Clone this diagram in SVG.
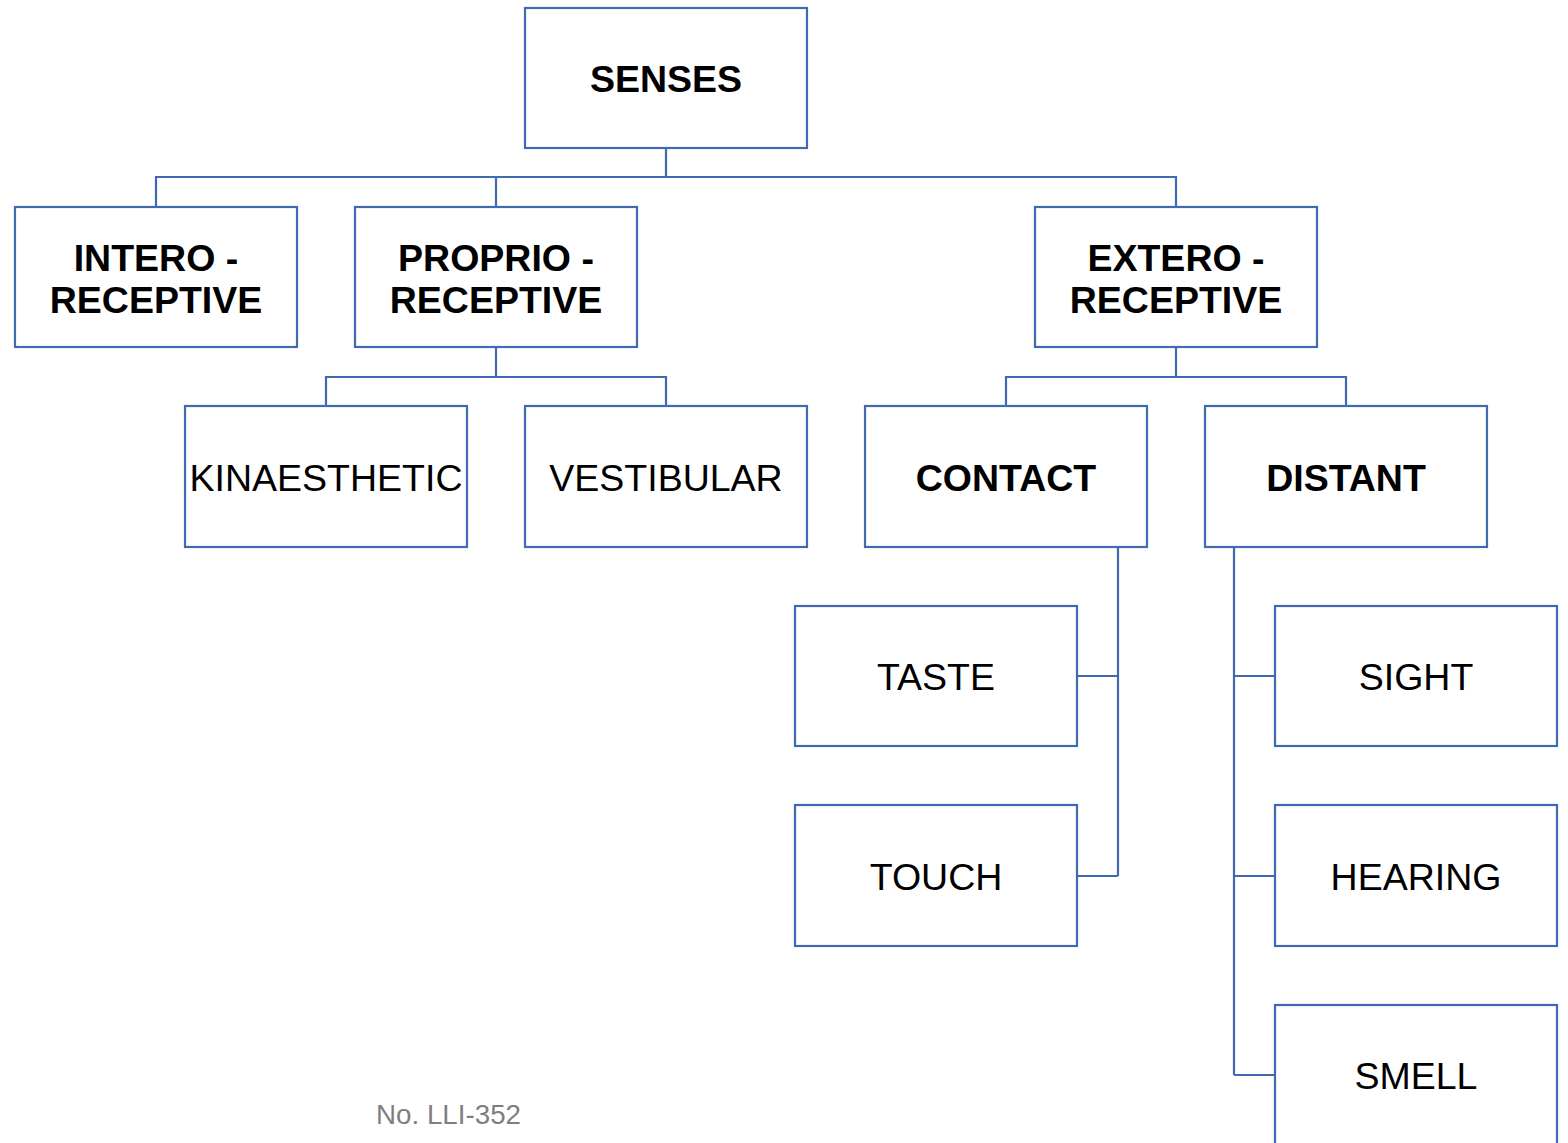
<svg xmlns="http://www.w3.org/2000/svg" width="1568" height="1143" viewBox="0 0 1568 1143">
<style>
.box{fill:#ffffff;stroke:#4169b1;stroke-width:2.2}
.con{fill:none;stroke:#4169b1;stroke-width:2.2}
.b{font-family:"Liberation Sans",Arial,sans-serif;font-weight:bold;font-size:37.5px;fill:#000;text-anchor:middle}
.r{font-family:"Liberation Sans",Arial,sans-serif;font-size:37.5px;fill:#000;text-anchor:middle}
.ft{font-family:"Liberation Sans",Arial,sans-serif;font-size:27px;fill:#7f7f7f}
</style>
<rect width="1568" height="1143" fill="#ffffff"/>
<g id="connectors">
<path class="con" d="M666 148V177M156 207V177H1176V207M496 177V207"/>
<path class="con" d="M496 347V377M326 406V377H666V406"/>
<path class="con" d="M1176 347V377M1006 406V377H1346V406"/>
<path class="con" d="M1118 547V876M1077 676H1118M1077 876H1118"/>
<path class="con" d="M1234 547V1075M1234 676H1275M1234 876H1275M1234 1075H1275"/>
</g>
<g id="senses"><rect class="box" x="525" y="8" width="282" height="140"/><text class="b" x="666" y="92">SENSES</text></g>
<g id="intero"><rect class="box" x="15" y="207" width="282" height="140"/><text class="b" x="156" y="271">INTERO -</text><text class="b" x="156" y="313">RECEPTIVE</text></g>
<g id="proprio"><rect class="box" x="355" y="207" width="282" height="140"/><text class="b" x="496" y="271">PROPRIO -</text><text class="b" x="496" y="313">RECEPTIVE</text></g>
<g id="extero"><rect class="box" x="1035" y="207" width="282" height="140"/><text class="b" x="1176" y="271">EXTERO -</text><text class="b" x="1176" y="313">RECEPTIVE</text></g>
<g id="kinaesthetic"><rect class="box" x="185" y="406" width="282" height="141"/><text class="r" x="326" y="491">KINAESTHETIC</text></g>
<g id="vestibular"><rect class="box" x="525" y="406" width="282" height="141"/><text class="r" x="666" y="491">VESTIBULAR</text></g>
<g id="contact"><rect class="box" x="865" y="406" width="282" height="141"/><text class="b" x="1006" y="491">CONTACT</text></g>
<g id="distant"><rect class="box" x="1205" y="406" width="282" height="141"/><text class="b" x="1346" y="491">DISTANT</text></g>
<g id="taste"><rect class="box" x="795" y="606" width="282" height="140"/><text class="r" x="936" y="690">TASTE</text></g>
<g id="touch"><rect class="box" x="795" y="805" width="282" height="141"/><text class="r" x="936" y="890">TOUCH</text></g>
<g id="sight"><rect class="box" x="1275" y="606" width="282" height="140"/><text class="r" x="1416" y="690">SIGHT</text></g>
<g id="hearing"><rect class="box" x="1275" y="805" width="282" height="141"/><text class="r" x="1416" y="890">HEARING</text></g>
<g id="smell"><rect class="box" x="1275" y="1005" width="282" height="160"/><text class="r" x="1416" y="1089">SMELL</text></g>
<g id="footer"><text class="ft" x="376" y="1124" textLength="145" lengthAdjust="spacingAndGlyphs">No. LLI-352</text></g>
</svg>
